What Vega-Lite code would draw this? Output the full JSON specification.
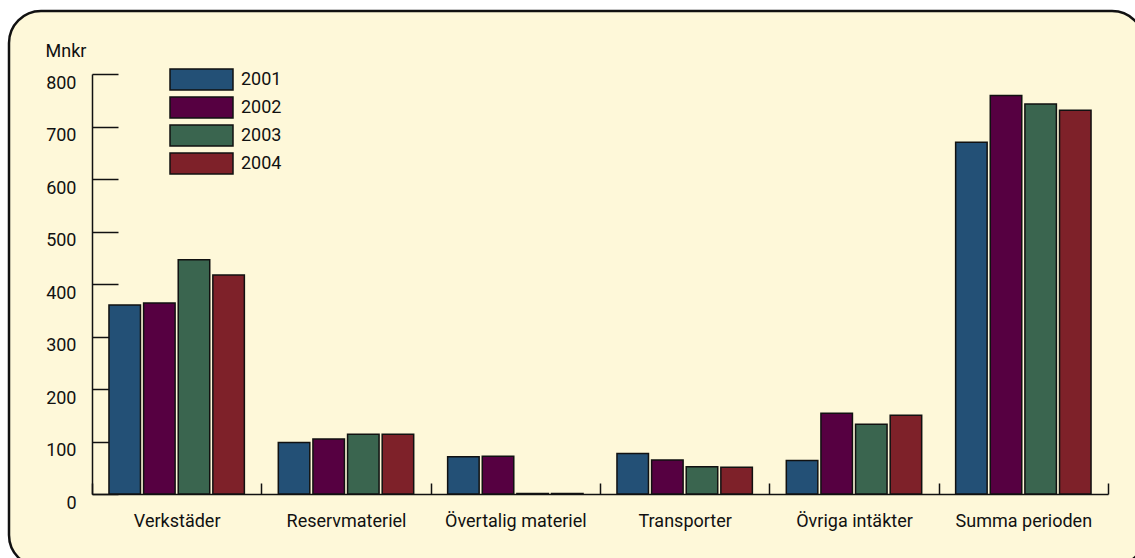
{
  "$schema": "https://vega.github.io/schema/vega-lite/v6.json",
  "width": 1135,
  "height": 556,
  "padding": {"left": 9, "top": 11, "right": 0, "bottom": 0},
  "autosize": {"type": "none"},
  "background": "#ffffff",
  "config": {
    "view": {"fill": "#FEF8D9", "stroke": "#111111", "strokeWidth": 2.5, "cornerRadius": 32},
    "font": "Roboto",
    "axis": {"labelFont": "Roboto", "titleFont": "Roboto", "labelColor": "#111111", "titleColor": "#111111"},
    "legend": {"labelFont": "Roboto"}
  },
  "data": {
    "values": [
      {"kategori": "Verkstäder", "år": "2001", "mnkr": 360},
      {"kategori": "Verkstäder", "år": "2002", "mnkr": 364},
      {"kategori": "Verkstäder", "år": "2003", "mnkr": 446},
      {"kategori": "Verkstäder", "år": "2004", "mnkr": 417},
      {"kategori": "Reservmateriel", "år": "2001", "mnkr": 98},
      {"kategori": "Reservmateriel", "år": "2002", "mnkr": 105},
      {"kategori": "Reservmateriel", "år": "2003", "mnkr": 114},
      {"kategori": "Reservmateriel", "år": "2004", "mnkr": 114},
      {"kategori": "Övertalig materiel", "år": "2001", "mnkr": 71},
      {"kategori": "Övertalig materiel", "år": "2002", "mnkr": 72},
      {"kategori": "Övertalig materiel", "år": "2003", "mnkr": 1},
      {"kategori": "Övertalig materiel", "år": "2004", "mnkr": 1},
      {"kategori": "Transporter", "år": "2001", "mnkr": 77},
      {"kategori": "Transporter", "år": "2002", "mnkr": 65},
      {"kategori": "Transporter", "år": "2003", "mnkr": 52},
      {"kategori": "Transporter", "år": "2004", "mnkr": 51},
      {"kategori": "Övriga intäkter", "år": "2001", "mnkr": 64},
      {"kategori": "Övriga intäkter", "år": "2002", "mnkr": 154},
      {"kategori": "Övriga intäkter", "år": "2003", "mnkr": 133},
      {"kategori": "Övriga intäkter", "år": "2004", "mnkr": 150},
      {"kategori": "Summa perioden", "år": "2001", "mnkr": 670},
      {"kategori": "Summa perioden", "år": "2002", "mnkr": 759},
      {"kategori": "Summa perioden", "år": "2003", "mnkr": 743},
      {"kategori": "Summa perioden", "år": "2004", "mnkr": 731}
    ]
  },
  "mark": {"type": "bar", "stroke": "#111111", "strokeWidth": 1.5},
  "encoding": {
    "x": {
      "field": "kategori", "type": "nominal", "sort": null,
      "scale": {"range": [83, 1099], "paddingInner": 0, "paddingOuter": 0},
      "axis": {
        "title": null, "orient": "bottom", "offset": -73, "labelAngle": 0,
        "tickBand": "extent", "tickSize": -11, "tickColor": "#111111", "tickWidth": 1.5,
        "domainColor": "#111111", "domainWidth": 1.5,
        "labelFontSize": 18, "labelPadding": 29
      }
    },
    "xOffset": {
      "field": "år", "type": "nominal",
      "scale": {"paddingOuter": 0.49, "paddingInner": 0.09}
    },
    "y": {
      "field": "mnkr", "type": "quantitative",
      "scale": {"domain": [0, 800], "range": [483, 63], "nice": false, "zero": true},
      "axis": {
        "title": "Mnkr", "titleAngle": 0, "titleAlign": "left", "titleBaseline": "middle",
        "titleX": -47, "titleY": 40, "titleFontSize": 18, "titleFontWeight": "normal",
        "orient": "left", "offset": -83, "values": [0, 100, 200, 300, 400, 500, 600, 700, 800],
        "grid": false, "tickSize": -26, "tickColor": "#111111", "tickWidth": 1.5,
        "domainColor": "#111111", "domainWidth": 1.5,
        "labelFontSize": 18, "labelPadding": 42, "labelBaseline": "top"
      }
    },
    "fill": {
      "field": "år", "type": "nominal",
      "scale": {"domain": ["2001", "2002", "2003", "2004"], "range": ["#235076", "#560041", "#3A654F", "#7E2129"]},
      "legend": {
        "title": null, "orient": "none", "legendX": 181, "legendY": 57,
        "symbolType": "M-3,-1H3V1H-3Z", "symbolSize": 441,
        "symbolStrokeColor": "#111111", "symbolStrokeWidth": 1.5,
        "labelFontSize": 18, "labelColor": "#111111", "labelOffset": 28,
        "rowPadding": 1, "padding": 0
      }
    }
  }
}
